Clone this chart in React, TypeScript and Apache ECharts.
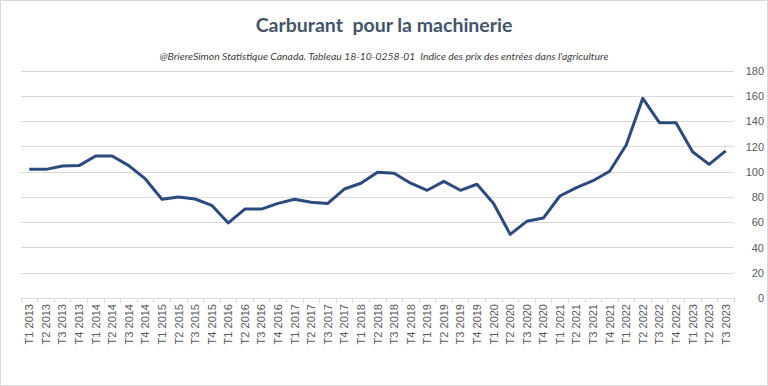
import React, { useEffect, useRef } from "react";
import * as echarts from "echarts";

const quarters: string[] = [];
for (let y = 2013; y <= 2023; y++) {
  for (let q = 1; q <= 4; q++) {
    if (y === 2023 && q > 3) break;
    quarters.push(`T${q} ${y}`);
  }
}

const values = [
  102, 102, 104.7, 105, 112.6, 112.6, 105, 94.4,
  78.3, 80, 78.5, 73.5, 59.5, 70.5, 70.5, 75,
  78.3, 75.9, 75, 86.4, 91, 99.7, 98.9, 91,
  85.4, 92.5, 85.4, 90.2, 75, 50.5, 60.8, 63.4,
  80.9, 87.5, 93, 100.5, 121.3, 158.3, 139, 139,
  116, 106, 116.6,
];

const titleText = "Carburant  pour la machinerie";
const subtitleText =
  "@BriereSimon Statistique Canada. Tableau 18-10-0258-01  Indice des prix des entrées dans l'agriculture";

export default function App() {
  const ref = useRef<HTMLDivElement>(null);
  useEffect(() => {
    if (!ref.current) return;
    const chart = echarts.init(ref.current, undefined, { renderer: "svg" });
    chart.setOption({
      animation: false,
      backgroundColor: "#ffffff",
      textStyle: { fontFamily: "Lato, 'Open Sans', sans-serif" },
      title: [
        {
          text: titleText,
          left: "center",
          top: 8,
          textStyle: {
            fontFamily: "Lato, sans-serif",
            fontSize: 19.5,
            fontWeight: "bold",
            color: "#44546A",
          },
        },
        {
          text: subtitleText,
          left: "center",
          top: 45,
          textStyle: {
            fontFamily: "Lato, sans-serif",
            fontSize: 10.4,
            fontStyle: "italic",
            fontWeight: "normal",
            color: "#404040",
          },
        },
      ],
      grid: { left: 20, right: 31, top: 70, bottom: 87, containLabel: false },
      xAxis: {
        type: "category",
        data: quarters,
        boundaryGap: true,
        axisLine: { show: true, lineStyle: { color: "#D9D9D9", width: 1 } },
        axisTick: { show: true, length: 5, lineStyle: { color: "#D9D9D9" } },
        axisLabel: {
          rotate: 90,
          interval: 0,
          margin: 6,
          fontSize: 11,
          color: "#595959",
          fontFamily: "'Liberation Sans', Arial, sans-serif",
        },
        splitLine: { show: false },
      },
      yAxis: {
        type: "value",
        position: "right",
        min: 0,
        max: 180,
        interval: 20,
        axisLine: { show: false },
        axisTick: { show: false },
        axisLabel: {
          align: "right",
          margin: 30,
          fontSize: 11,
          color: "#595959",
          fontFamily: "'Liberation Sans', Arial, sans-serif",
        },
        splitLine: { lineStyle: { color: "#D9D9D9", width: 1 } },
      },
      series: [
        {
          type: "line",
          data: values,
          symbol: "none",
          lineStyle: { color: "#2B4A7E", width: 3, join: "round" },
        },
      ],
    });
    return () => chart.dispose();
  }, []);
  return (
    <div
      style={{
        position: "absolute",
        left: 0,
        top: 0,
        width: 768,
        height: 386,
        boxSizing: "border-box",
        border: "1px solid #D9D9D9",
        background: "#fff",
      }}
    >
      <div ref={ref} style={{ width: 766, height: 384 }} />
    </div>
  );
}
